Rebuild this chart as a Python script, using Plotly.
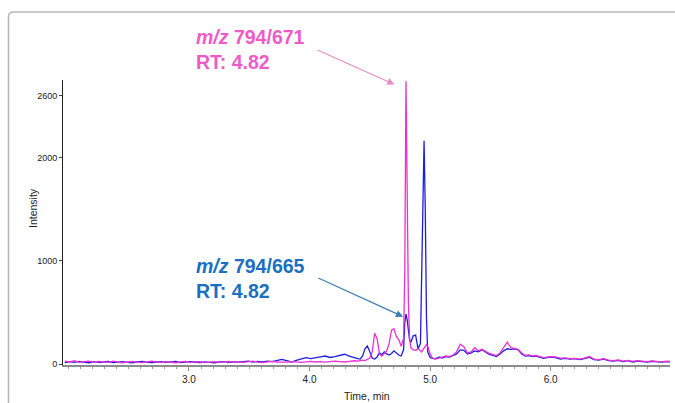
import plotly.graph_objects as go

# ---- data ----
time_min = [
    1.97, 2.01, 2.05, 2.09, 2.13, 2.17, 2.21, 2.25, 2.29, 2.33,
    2.37, 2.41, 2.45, 2.49, 2.53, 2.57, 2.61, 2.65, 2.69, 2.73,
    2.77, 2.81, 2.85, 2.89, 2.93, 2.97, 3.01, 3.05, 3.09, 3.13,
    3.17, 3.21, 3.25, 3.29, 3.33, 3.37, 3.41, 3.45, 3.49, 3.53,
    3.57, 3.61, 3.65, 3.69, 3.73, 3.77, 3.81, 3.85, 3.89, 3.93,
    3.97, 4.01, 4.05, 4.09, 4.13, 4.17, 4.21, 4.25, 4.29, 4.33, 4.37,
    4.40, 4.42, 4.44, 4.46, 4.48, 4.50, 4.52, 4.54, 4.56, 4.58,
    4.60, 4.62, 4.64, 4.66, 4.68, 4.70, 4.72, 4.74, 4.76, 4.78,
    4.79, 4.80, 4.81, 4.82, 4.83, 4.84, 4.85, 4.86,
    4.88, 4.90, 4.92,
    4.93, 4.94, 4.95, 4.96, 4.97, 4.98,
    5.00, 5.02, 5.04, 5.06, 5.08,
    5.10, 5.13, 5.16, 5.19, 5.22, 5.25, 5.28, 5.31, 5.34, 5.37,
    5.40, 5.43, 5.46, 5.49, 5.52, 5.55, 5.58, 5.61, 5.64, 5.67,
    5.70, 5.73, 5.76, 5.79, 5.82, 5.85, 5.88, 5.91, 5.94, 5.97, 6.00,
    6.04, 6.08, 6.12, 6.16, 6.20, 6.24, 6.28, 6.32, 6.36, 6.40,
    6.44, 6.48, 6.52, 6.56, 6.60, 6.64, 6.68, 6.72, 6.76, 6.80,
    6.84, 6.88, 6.92, 6.96, 7.00,
]

intensity_665 = [  # blue trace, m/z 794/665
    15, 25, 18, 28, 20, 15, 26, 18, 22, 28,
    16, 20, 25, 18, 14, 24, 28, 20, 16, 22,
    26, 18, 24, 28, 16, 20, 26, 22, 16, 24,
    20, 14, 22, 26, 18, 24, 20, 26, 30, 22,
    28, 24, 30, 26, 38, 48, 35, 22, 38, 50,
    65, 55, 60, 72, 80, 66, 75, 88, 97, 78, 62,
    55, 50, 80, 150, 178, 120, 60, 50, 70, 110,
    95, 120, 100, 90, 105, 130, 110, 90, 80, 140,
    400, 487, 430, 300, 235, 210, 240, 275,
    283, 150, 200,
    900, 1750, 2165, 1500, 450, 120,
    65, 58, 55, 62, 70,
    60, 75, 70, 85, 100, 140, 135, 100, 110, 130,
    120, 140, 115, 95, 85, 75, 100, 130, 150, 145,
    150, 140, 100, 80, 85, 75, 80, 70, 58, 65, 70,
    65, 50, 58, 50, 55, 45, 55, 68, 45, 40,
    50, 35, 30, 38, 25, 35, 22, 30, 25, 20,
    28, 24, 20, 26, 22,
]

intensity_671 = [  # pink trace, m/z 794/671
    30, 22, 35, 18, 25, 30, 20, 28, 24, 18,
    30, 26, 15, 22, 28, 20, 16, 24, 30, 22,
    18, 26, 20, 15, 24, 28, 18, 22, 26, 16,
    20, 25, 18, 22, 28, 20, 24, 18, 22, 30,
    20, 16, 24, 28, 22, 18, 20, 26, 22, 18,
    24, 28, 22, 26, 20, 24, 30, 26, 22, 28, 34,
    30, 35, 40, 35, 45, 60, 120, 300, 250, 100,
    80, 110, 130, 200, 330, 345, 270, 240, 175, 250,
    900, 2740, 1800, 600, 250, 160, 150, 140,
    135, 150, 130,
    120, 140, 160, 175, 190, 175,
    100, 60, 50, 55, 60,
    70, 80, 75, 90, 120, 195, 170, 110, 120, 160,
    130, 145, 125, 105, 95, 85, 110, 160, 215, 160,
    150, 145, 110, 85, 90, 80, 85, 75, 65, 70, 75,
    72, 60, 62, 55, 58, 50, 60, 75, 50, 45,
    55, 40, 35, 42, 30, 38, 28, 35, 30, 25,
    32, 28, 24, 30, 26,
]

y_tick_vals = [0, 1000, 2000, 2600]
y_tick_text = ["0", "1000", "2000", "2600"]
x_tick_vals = [3.0, 4.0, 5.0, 6.0]
x_tick_text = ["3.0", "4.0", "5.0", "6.0"]

label_671 = "<i>m/z</i> 794/671<br>RT: 4.82"
label_665 = "<i>m/z</i> 794/665<br>RT: 4.82"

# ---- styling ----
FONT = "Arial, Liberation Sans, sans-serif"
PINK_LINE = "#ee2fd2"
BLUE_LINE = "#1e1ee0"
PINK_TEXT = "#ee5bc8"
BLUE_TEXT = "#1b6fbf"
PINK_ARROW = "#e58ccb"
BLUE_ARROW = "#3a7db8"

W, H = 675, 403
L, R, T, B = 63, 5, 80, 38
PW, PH = W - L - R, H - T - B


def px(xp):
    return (xp - L) / PW


def py(yp):
    return (H - B - yp) / PH


fig = go.Figure()
fig.add_trace(go.Scatter(x=time_min, y=intensity_665, mode="lines",
                         line=dict(color=BLUE_LINE, width=1.3),
                         showlegend=False, hoverinfo="skip"))
fig.add_trace(go.Scatter(x=time_min, y=intensity_671, mode="lines",
                         line=dict(color=PINK_LINE, width=1.3),
                         showlegend=False, hoverinfo="skip"))

annotations = [
    dict(text=label_671, xref="paper", yref="paper", x=px(194), y=py(50),
         xanchor="left", yanchor="middle", align="left", showarrow=False,
         font=dict(family=FONT, size=19.5, color=PINK_TEXT, weight="bold")),
    dict(text=label_665, xref="paper", yref="paper", x=px(194), y=py(278.5),
         xanchor="left", yanchor="middle", align="left", showarrow=False,
         font=dict(family=FONT, size=19.5, color=BLUE_TEXT, weight="bold")),
    # arrows
    dict(text="", x=4.705, y=2709, ax=4.054, ay=3049, xref="x", yref="y",
         axref="x", ayref="y", showarrow=True, arrowhead=2, arrowsize=1.2,
         arrowwidth=1.2, arrowcolor=PINK_ARROW),
    dict(text="", x=4.776, y=461, ax=4.06, ay=842, xref="x", yref="y",
         axref="x", ayref="y", showarrow=True, arrowhead=2, arrowsize=1.2,
         arrowwidth=1.2, arrowcolor=BLUE_ARROW),
    # axis titles
    dict(text="Time, min", xref="paper", yref="paper", x=0.5, y=py(396),
         xanchor="center", yanchor="middle", showarrow=False,
         font=dict(family=FONT, size=10.5, color="#222")),
    dict(text="Intensity", xref="paper", yref="paper", x=px(33), y=py(208),
         xanchor="center", yanchor="middle", showarrow=False, textangle=-90,
         font=dict(family=FONT, size=10.5, color="#222")),
]

# rounded frame at top-left of the image
x0, y0 = px(8.5), py(404)
ytop, xr = py(12), px(676)
dx, dy = 5 / PW, 5 / PH
frame_path = (f"M {x0},{y0} L {x0},{ytop - dy} Q {x0},{ytop} {x0 + dx},{ytop} "
              f"L {xr},{ytop}")

fig.update_layout(
    width=W, height=H,
    margin=dict(l=L, r=R, t=T, b=B),
    paper_bgcolor="white", plot_bgcolor="white",
    font=dict(family=FONT, size=9, color="#222"),
    annotations=annotations,
    shapes=[dict(type="path", path=frame_path, xref="paper", yref="paper",
                 line=dict(color="#b8b8b8", width=1.6), layer="below")],
    xaxis=dict(range=[1.955, 6.99], tickvals=x_tick_vals, ticktext=x_tick_text,
               showgrid=False, zeroline=False, showline=True,
               linecolor="#8c8c8c", linewidth=1.5, ticks="outside",
               ticklen=4, tickcolor="#8c8c8c", tickwidth=1,
               tickfont=dict(family=FONT, size=10, color="#222"),
               minor=dict(dtick=0.1, tick0=0, ticks="outside", ticklen=2,
                          tickcolor="#9a9a9a", showgrid=False)),
    yaxis=dict(range=[-7, 2752], tickvals=y_tick_vals, ticktext=y_tick_text,
               showgrid=False, zeroline=False, showline=True,
               linecolor="#222", linewidth=1, ticks="outside",
               ticklen=3, tickcolor="#444",
               tickfont=dict(family=FONT, size=9, color="#222")),
)

fig.write_html("out.html",
               config={"displayModeBar": False, "staticPlot": True},
               post_script="document.body.style.margin='0';"
                           "document.body.style.overflow='hidden';")
